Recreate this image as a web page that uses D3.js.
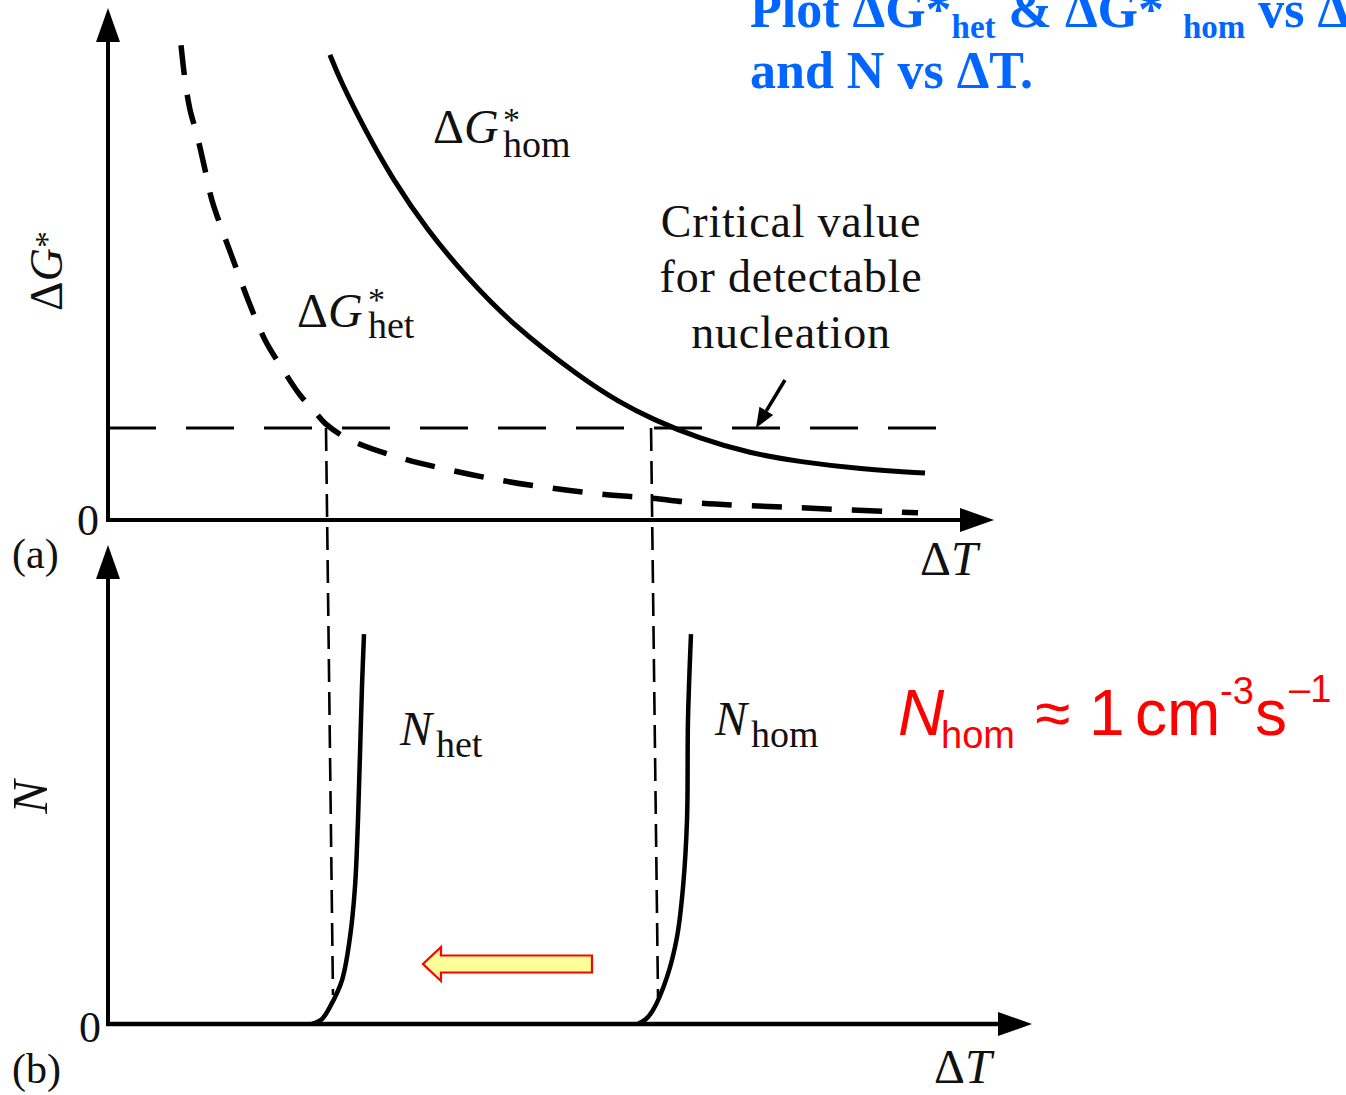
<!DOCTYPE html>
<html>
<head>
<meta charset="utf-8">
<script src="https://cdn.jsdelivr.net/npm/d3@7"></script>
<style>
  body { margin: 0; background: #fff; }
  svg { display: block; }
  .serif { font-family: "Liberation Serif", "Times New Roman", serif; }
  .sans { font-family: "Liberation Sans", Arial, sans-serif; }
</style>
</head>
<body>
<svg id="chart" width="1346" height="1095"></svg>
<script>
// values, dT and dG* / N in arbitrary units (0-100)
const hetDT = [8.26, 8.71, 9.28, 10.07, 10.86, 11.76, 12.9, 14.37, 16.06, 17.76, 19.68, 21.72, 23.42, 24.66, 27.38, 33.03, 38.69, 44.34, 50.0, 55.66, 61.31, 66.97, 78.28, 91.63];
const hetG  = [93.1, 86.3, 80.4, 75.5, 69.6, 62.7, 56.9, 50.0, 42.2, 35.3, 29.8, 24.5, 21.2, 18.8, 15.7, 12.2, 9.8, 7.8, 6.3, 5.1, 4.3, 3.3, 2.4, 1.4];

const homDT = [25.11, 26.24, 29.07, 32.24, 36.09, 40.61, 45.81, 53.39, 57.92, 61.54, 66.97, 72.62, 78.28, 85.07, 92.42];
const homG  = [91.2, 86.3, 76.5, 66.7, 56.9, 47.5, 38.2, 28.0, 23.0, 19.8, 15.9, 13.1, 11.4, 10.0, 9.2];

const criticalG = 18.04;
const criticalEnd = 94.2;

const nHetDT = [23.08, 24.21, 25.11, 26.47, 27.38, 27.94, 28.28, 28.51, 28.73, 28.96];
const nHetN  = [0, 1.05, 3.6, 9.2, 18.3, 28.8, 42.9, 56.9, 70.8, 81.9];
const nHomDT = [59.95, 60.86, 61.65, 63.24, 64.37, 65.05, 65.5, 65.61, 65.95];
const nHomN  = [0, 1.05, 2.9, 9.9, 18.3, 28.8, 42.9, 63.9, 81.9];

// guide lines from the critical crossings down into panel (b)
const guideTopDT = [24.66, 61.43];
const guideBotDT = [25.45, 62.22];
const guideBotN = [6.1, 5.5];

// yellow arrow (dT start, dT tip, N level)
const arrowFrom = 54.75, arrowTo = 35.63, arrowN = 12.6;
// pointer to the critical line
const pointerFrom = [76.58, 27.45], pointerTo = [73.3, criticalG];

const svg = d3.select('#chart');
svg.append('rect').attr('width', 1346).attr('height', 1095).attr('fill', '#fff');

const x = d3.scaleLinear().domain([0, 100]).range([108, 992]);
const yTop = d3.scaleLinear().domain([0, 100]).range([520, 10]);
const yBot = d3.scaleLinear().domain([0, 100]).range([1024, 548]);

const zip = (a, b) => a.map((v, i) => [v, b[i]]);

// axes with arrow heads
const axisG = svg.append('g').attr('stroke', '#000').attr('fill', '#000');
function arrowAxis(x1, y1, x2, y2, w) {
    const len = Math.hypot(x2 - x1, y2 - y1);
    const ux = (x2 - x1) / len, uy = (y2 - y1) / len;
    const hl = 34, hw = 12;
    const bx = x2 - ux * hl, by = y2 - uy * hl;
    axisG.append('line')
        .attr('x1', x1).attr('y1', y1).attr('x2', bx + ux * 2).attr('y2', by + uy * 2)
        .attr('stroke-width', w);
    axisG.append('polygon')
        .attr('stroke', 'none')
        .attr('points', [[x2, y2], [bx - uy * hw, by + ux * hw], [bx + uy * hw, by - ux * hw]].join(' '));
}
arrowAxis(x(0), yTop(0), x(0), 8, 4);
arrowAxis(x(0) - 2, yTop(0), 994, yTop(0), 4);
arrowAxis(x(0), yBot(0), x(0), 545, 4);
arrowAxis(x(0) - 2, yBot(0), 1032, yBot(0), 4.5);

const curve = d3.curveCatmullRom.alpha(0.5);
const lineTop = d3.line().x(d => x(d[0])).y(d => yTop(d[1])).curve(curve);
const lineBot = d3.line().x(d => x(d[0])).y(d => yBot(d[1])).curve(curve);
const plot = svg.append('g').attr('fill', 'none').attr('stroke', '#000');

// critical value line
plot.append('line')
    .attr('x1', x(0)).attr('x2', x(criticalEnd))
    .attr('y1', yTop(criticalG)).attr('y2', yTop(criticalG))
    .attr('stroke-width', 3).attr('stroke-dasharray', '48,30');

// vertical guides
guideTopDT.forEach((v, i) => {
    plot.append('line')
        .attr('x1', x(v)).attr('y1', yTop(criticalG))
        .attr('x2', x(guideBotDT[i])).attr('y2', yBot(guideBotN[i]))
        .attr('stroke-width', 2.6).attr('stroke-dasharray', '23,10');
});

plot.append('path')
    .attr('d', lineTop(zip(hetDT, hetG)))
    .attr('stroke-width', 5.5).attr('stroke-dasharray', '30,20');

plot.append('path')
    .attr('d', lineTop.curve(d3.curveBasis)(zip(homDT, homG)))
    .attr('stroke-width', 5);

plot.append('path').attr('d', lineBot(zip(nHetDT, nHetN))).attr('stroke-width', 4.5);
plot.append('path').attr('d', lineBot(zip(nHomDT, nHomN))).attr('stroke-width', 4.5);

// pointer arrow
{
    const x1 = x(pointerFrom[0]), y1 = yTop(pointerFrom[1]);
    const x2 = x(pointerTo[0]), y2 = yTop(pointerTo[1]);
    const len = Math.hypot(x2 - x1, y2 - y1);
    const ux = (x2 - x1) / len, uy = (y2 - y1) / len;
    const bx = x2 - ux * 20, by = y2 - uy * 20;
    plot.append('line').attr('x1', x1).attr('y1', y1).attr('x2', bx).attr('y2', by).attr('stroke-width', 3.5);
    plot.append('polygon').attr('fill', '#000').attr('stroke', 'none')
        .attr('points', [[x2, y2], [bx - uy * 8, by + ux * 8], [bx + uy * 8, by - ux * 8]].join(' '));
}

// yellow arrow
{
    const xr = x(arrowFrom), xt = x(arrowTo), yc = yBot(arrowN);
    const xb = xt + 18;
    svg.append('polygon')
        .attr('points', [[xr, yc - 8.5], [xb, yc - 8.5], [xb, yc - 17], [xt, yc], [xb, yc + 17], [xb, yc + 8.5], [xr, yc + 8.5]].join(' '))
        .attr('fill', '#ffff99').attr('stroke', '#ff0000').attr('stroke-width', 2.2);
}

// text
const t = svg.append('g').attr('class', 'serif').attr('fill', '#111');
function txt(px, py, size, parts, anchor) {
    const el = t.append('text').attr('x', px).attr('y', py).attr('font-size', size)
        .attr('text-anchor', anchor || 'start');
    parts.forEach(p => {
        const s = el.append('tspan').text(p.s);
        if (p.i) s.attr('font-style', 'italic');
        if (p.fs) s.attr('font-size', p.fs);
        if (p.x != null) s.attr('x', p.x);
        if (p.y != null) s.attr('y', p.y);
    });
    return el;
}

txt(99, 535, 44, [{s: '0'}], 'end');
txt(101, 1042, 44, [{s: '0'}], 'end');
txt(12, 568, 42, [{s: '(a)'}]);
txt(12, 1083, 42, [{s: '(b)'}]);
txt(920, 575, 48, [{s: 'Δ'}, {s: 'T', i: true}]);
txt(934, 1083, 48, [{s: 'Δ'}, {s: 'T', i: true}]);

// rotated axis titles
t.append('text').attr('transform', 'translate(62,271) rotate(-90)').attr('text-anchor', 'middle')
    .attr('font-size', 46)
    .call(s => {
        s.append('tspan').text('Δ');
        s.append('tspan').text('G').attr('font-style', 'italic');
        s.append('tspan').text('*').attr('font-size', 34).attr('dy', -4);
    });
t.append('text').attr('transform', 'translate(47,797) rotate(-90)').attr('text-anchor', 'middle')
    .attr('font-size', 50).attr('font-style', 'italic').text('N');

// curve labels
txt(433, 143, 48, [{s: 'Δ'}, {s: 'G', i: true}, {s: '*', fs: 34, x: 503, y: 131}, {s: 'hom', fs: 38, x: 503, y: 157}]);
txt(297, 327, 48, [{s: 'Δ'}, {s: 'G', i: true}, {s: '*', fs: 34, x: 368, y: 311}, {s: 'het', fs: 38, x: 368, y: 338}]);
txt(400, 745, 48, [{s: 'N', i: true}, {s: 'het', fs: 38, x: 436, y: 757}]);
txt(715, 735, 48, [{s: 'N', i: true}, {s: 'hom', fs: 38, x: 751, y: 747}]);

const critLines = ['Critical value', 'for detectable', 'nucleation'];
const critY = [237, 292, 348];
critLines.forEach((s, i) => txt(791, critY[i], 46, [{s}], 'middle').attr('letter-spacing', 0.8));

// blue title
const title = svg.append('g').attr('class', 'serif').attr('fill', '#0066ff').attr('font-weight', 'bold');
title.append('text').attr('x', 750).attr('y', 27).attr('font-size', 52)
    .call(s => {
        s.append('tspan').text('Plot ΔG*');
        s.append('tspan').text('het').attr('font-size', 33).attr('dy', 11);
        s.append('tspan').text(' & ΔG* ').attr('dy', -11);
        s.append('tspan').text('hom').attr('font-size', 33).attr('dy', 11).attr('dx', 6);
        s.append('tspan').text(' vs ΔT').attr('dy', -11);
    });
title.append('text').attr('x', 750).attr('y', 88).attr('font-size', 52).text('and N vs ΔT.');

// red annotation
const red = svg.append('g').attr('class', 'sans').attr('fill', '#ff0000');
red.append('text').attr('x', 898).attr('y', 735).attr('font-size', 64).attr('font-style', 'italic').text('N');
red.append('text').attr('x', 941).attr('y', 748).attr('font-size', 38).text('hom');
red.append('text').attr('x', 1035).attr('y', 735).attr('font-size', 64).text('≈');
red.append('text').attr('x', 1089).attr('y', 735).attr('font-size', 64).text('1');
red.append('text').attr('x', 1135).attr('y', 735).attr('font-size', 64).text('cm');
red.append('text').attr('x', 1220).attr('y', 704).attr('font-size', 38).text('-3');
red.append('text').attr('x', 1255).attr('y', 735).attr('font-size', 64).text('s');
red.append('text').attr('x', 1289).attr('y', 702).attr('font-size', 38).text('–1');
</script>
</body>
</html>
